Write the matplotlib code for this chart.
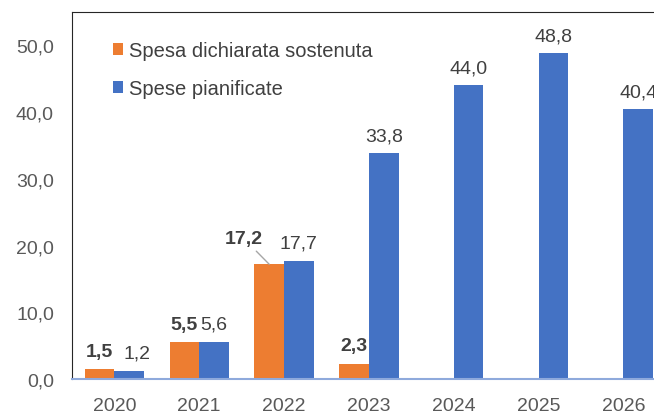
import numpy as np
import matplotlib.pyplot as plt

plt.rcParams['font.family'] = ['Liberation Sans', 'DejaVu Sans']

years = ['2020', '2021', '2022', '2023', '2024', '2025', '2026']
spesa_sostenuta = [1.5, 5.5, 17.2, 2.3, np.nan, np.nan, np.nan]
spese_pianificate = [1.2, 5.6, 17.7, 33.8, 44.0, 48.8, 40.4]

orange = '#ED7D31'
blue = '#4472C4'
txt = '#404040'
fs = 14


def fmt(v):
    return f"{v:.1f}".replace('.', ',')


fig = plt.figure(figsize=(6.54, 4.14), dpi=100)
ax = fig.add_axes([0.110, 0.082, 0.89, 0.8866])

x = np.arange(len(years))
w = 0.35
ax.bar(x - w / 2, spesa_sostenuta, w, color=orange, label='Spesa dichiarata sostenuta', zorder=2)
ax.bar(x + w / 2, spese_pianificate, w, color=blue, label='Spese pianificate', zorder=2)

# value labels
for i, v in enumerate(spesa_sostenuta):
    if np.isnan(v):
        continue
    if i == 2:
        ax.annotate(fmt(v), xy=(x[i] - w / 2, v), xytext=(x[i] - 0.47, v + 3.8),
                    ha='center', va='center', fontsize=fs, fontweight='bold', color=txt,
                    arrowprops=dict(arrowstyle='-', color='#A6A6A6', lw=1, shrinkA=1, shrinkB=0))
    else:
        ax.text(x[i] - w / 2, v + 1.4, fmt(v), ha='center', va='bottom',
                fontsize=fs, fontweight='bold', color=txt)
for i, v in enumerate(spese_pianificate):
    dx = 0.09 if i == 0 else 0
    ax.text(x[i] + w / 2 + dx, v + 1.4, fmt(v), ha='center', va='bottom',
            fontsize=fs, color=txt)

ax.set_xlim(-0.5, 6.36)
ax.set_ylim(0, 55)
ax.set_yticks(np.arange(0, 51, 10))
ax.set_yticklabels([fmt(t) for t in np.arange(0, 51, 10)])
ax.set_xticks(x)
ax.set_xticklabels(years)
ax.tick_params(axis='both', length=0, labelsize=fs, labelcolor='#595959')
ax.tick_params(axis='y', pad=13)
ax.tick_params(axis='x', pad=13)

ax.spines['right'].set_visible(False)
ax.spines['left'].set_color('#262626')
ax.spines['top'].set_color('#262626')
ax.spines['bottom'].set_color('#8FAADC')
ax.spines['bottom'].set_linewidth(1.5)

leg = ax.legend(loc='upper left', bbox_to_anchor=(0.04, 0.97), frameon=False, fontsize=14.5,
                handlelength=0.5, handleheight=0.5, handletextpad=0.3, labelspacing=0.95)
for t in leg.get_texts():
    t.set_color(txt)

plt.savefig('out.png', dpi=100)
